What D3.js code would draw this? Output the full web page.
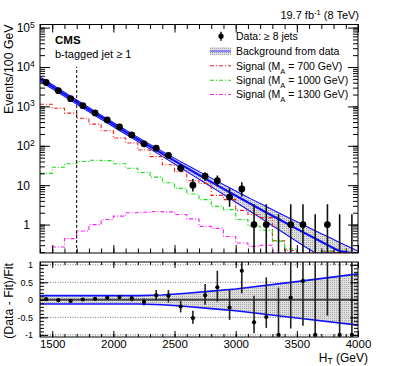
<!DOCTYPE html>
<html>
<head>
<meta charset="utf-8">
<script src="https://cdn.jsdelivr.net/npm/d3@7"></script>
<style>
  html, body { margin: 0; padding: 0; background: #fff; }
  svg { display: block; font-family: "Liberation Sans", Arial, Helvetica, sans-serif; }
</style>
</head>
<body>
<div id="chart"></div>
<script>
/* HT spectrum, >= 8 jets, b-tag >= 1: data vs fitted background + signals,
   with a (Data - Fit)/Fit ratio pad underneath. */

// bin centres (100 GeV bins)
var htBins = [1450, 1550, 1650, 1750, 1850, 1950, 2050, 2150, 2250, 2350, 2450, 2550, 2650,
              2750, 2850, 2950, 3050, 3150, 3250, 3350, 3450, 3550, 3650, 3750, 3850, 3950];

// observed events and their error bar ends
var dataCounts = [4070, 2510, 1570, 1045, 685, 455, 300, 189, 112, 87, 57, 27, 10,
                  17, 13, 5, 8, 1, 1, 0, 1, 1, 0, 1, 0, 0];
var dataLo = [4006, 2460, 1530, 1013, 659, 434, 283, 175, 101, 78, 49.5, 21.9, 6.9,
              12.9, 9.4, 2.84, 5.18, 0.173, 0.173, 0, 0.173, 0.173, 0, 0.173, 0, 0];
var dataHi = [4134, 2560, 1610, 1077, 711, 476, 317, 203, 123, 97, 65, 32.2, 14.3,
              21.2, 17.7, 8.38, 11.8, 3.3, 3.3, 1.84, 3.3, 3.3, 1.84, 3.3, 1.84, 1.84];

// background fit curve
var fitHt = [1400, 1450, 1550, 1650, 1750, 1850, 1950, 2050, 2150, 2250, 2350, 2450, 2550, 2650,
             2750, 2850, 2950, 3050, 3150, 3250, 3350, 3450, 3550, 3650, 3750, 3850, 3950, 4000];
var fitVal = [5008, 3990, 2539, 1621, 1039, 668, 431, 279, 181.7, 118.6, 77.7, 51.1, 33.7, 22.3,
              14.8, 9.89, 6.62, 4.45, 3.0, 2.03, 1.38, 0.94, 0.643, 0.442, 0.304, 0.211, 0.146, 0.122];

// relative fit uncertainty band
var bandHt = [1400, 2200, 2400, 2600, 2800, 3000, 3500, 4000];
var bandUp = [0.12, 0.12, 0.14, 0.19, 0.25, 0.31, 0.52, 0.74];
var bandDn = [0.12, 0.12, 0.14, 0.19, 0.25, 0.31, 0.52, 0.72];

// signal histograms (per bin)
var sig700  = [1130, 900, 675, 500, 355, 241, 158, 118, 78, 53, 33, 22, 13,
               11, 5.5, 4.3, 2.3, 1.8, 1.5, 0.39, 0.22, 0.12, 0.1, 0.21, 0.12, 0.08];
var sig1000 = [20, 28.5, 35, 40, 43, 42, 35, 27, 21, 16, 11.5, 8.3, 6,
               4.3, 2.9, 2.4, 1.35, 0.92, 0.72, 0.38, 0.24, 0.15, 0.12, 0.21, 0.14, 0.1];
var sig1300 = [0.15, 0.27, 0.44, 0.69, 1.0, 1.35, 1.64, 2.0, 2.05, 2.15, 2.1, 1.8, 1.4,
               0.9, 0.8, 0.5, 0.34, 0.28, 0.3, 0.19, 0.15, 0.12, 0.1, 0.19, 0.12, 0.1];

// ratio pad values and error bar ends
var ratioVal = [0.02, -0.01, -0.03, 0.01, 0.03, 0.06, 0.08, 0.04, -0.06, 0.13, 0.12, -0.19, -0.52,
                0.13, 0.36, -0.22, 0.83, -0.64, -0.49, -1, 0.06, 0.54, -1, 2.3, -1, -1];
var ratioLo = [0.0, -0.03, -0.05, -0.02, 0.0, 0.02, 0.03, -0.04, -0.16, -0.02, -0.07, -0.36, -0.68,
               -0.14, -0.05, -0.57, 0.19, -0.95, -0.8, -1, -0.82, -0.74, -1, -0.45, -1, -1];
var ratioHi = [0.04, 0.01, -0.01, 0.04, 0.06, 0.1, 0.13, 0.12, 0.04, 0.28, 0.28, -0.02, -0.31,
               0.45, 0.83, 0.3, 1.2, 0.12, 0.64, 0.35, 1.5, 1.5, 2.5, 5, 5, 10];

// axis ticks / labels
var xMajor = [1500, 2000, 2500, 3000, 3500, 4000];
var yTickVals = [1, 10, 100, 1000, 10000, 100000];
var yTickBase = ["1", "10", "10", "10", "10", "10"];
var yTickExp  = ["", "", "2", "3", "4", "5"];
var rMajor = [-1, -0.5, 0, 0.5, 1];
var rGrid = [-1, -0.5, 0.5, 1];
var cutHt = 1700;

var legendRows = [
  { type: "data",  label: "Data: \u2265 8 jets" },
  { type: "bkg",   label: "Background from data" },
  { type: "sig",   label: "Signal (M", sub: "A", rest: " = 700 GeV)",  color: "#ff1a1a" },
  { type: "sig",   label: "Signal (M", sub: "A", rest: " = 1000 GeV)", color: "#10e010" },
  { type: "sig",   label: "Signal (M", sub: "A", rest: " = 1300 GeV)", color: "#ff1aff" }
];

(function () {
  "use strict";

  var W = 399, H = 366;
  var L = 40, R = 358;
  var T1 = 24.5, B1 = 253, T2 = 262, B2 = 337;
  var BLUE = "#1010ff";

  var x = d3.scaleLinear().domain([1400, 4000]).range([L, R]);
  var y = d3.scaleLog().domain([0.19, 1.2e5]).range([B1, T1]).clamp(true);
  var yr = d3.scaleLinear().domain([-1.06, 1.08]).range([B2, T2]);
  var upAt = d3.scaleLinear().domain(bandHt).range(bandUp);
  var dnAt = d3.scaleLinear().domain(bandHt).range(bandDn);

  var svg = d3.select("#chart").append("svg").attr("width", W).attr("height", H);
  var defs = svg.append("defs");
  defs.append("clipPath").attr("id", "clipTop").append("rect")
    .attr("x", L).attr("y", T1).attr("width", R - L).attr("height", B1 - T1);
  defs.append("clipPath").attr("id", "clipBot").append("rect")
    .attr("x", L).attr("y", T2).attr("width", R - L).attr("height", B2 - T2);
  var pat = defs.append("pattern").attr("id", "dots").attr("patternUnits", "userSpaceOnUse")
    .attr("width", 2).attr("height", 2);
  pat.append("rect").attr("width", 2).attr("height", 2).attr("fill", "#dedede");
  pat.append("rect").attr("width", 1).attr("height", 1).attr("fill", "#a9a9a9");

  function clean(g) {
    g.select(".domain").remove();
    g.selectAll(".tick line").attr("stroke", "#000").attr("stroke-width", 1);
    return g;
  }
  function inTicks(axisFn, scale, vals, size, pos, transform) {
    var a = axisFn(scale).tickValues(vals).tickSize(-size).tickFormat("");
    return clean(svg.append("g").attr("transform", transform).call(a));
  }

  /* ---------------- top pad ---------------- */
  var top = svg.append("g").attr("clip-path", "url(#clipTop)");

  // band
  var bandPts = fitHt.map(function (h, i) {
    return { h: h, lo: fitVal[i] * (1 - dnAt(h)), hi: fitVal[i] * (1 + upAt(h)), c: fitVal[i] };
  });
  top.append("path").datum(bandPts)
    .attr("d", d3.area().x(function (d) { return x(d.h); })
      .y0(function (d) { return y(Math.max(d.lo, 0.01)); })
      .y1(function (d) { return y(d.hi); }))
    .attr("fill", "url(#dots)");
  ["lo", "hi"].forEach(function (k) {
    top.append("path").datum(bandPts)
      .attr("d", d3.line().x(function (d) { return x(d.h); }).y(function (d) { return y(Math.max(d[k], 0.01)); }))
      .attr("fill", "none").attr("stroke", BLUE).attr("stroke-width", 1.1);
  });
  top.append("path").datum(bandPts)
    .attr("d", d3.line().x(function (d) { return x(d.h); }).y(function (d) { return y(d.c); }))
    .attr("fill", "none").attr("stroke", BLUE).attr("stroke-width", 2.2);

  // signals
  function stepPts(vals) {
    var pts = vals.map(function (v, i) { return [htBins[i] - 50, v]; });
    pts.push([4000, vals[vals.length - 1]]);
    return pts;
  }
  [[sig700, legendRows[2].color], [sig1000, legendRows[3].color], [sig1300, legendRows[4].color]]
    .forEach(function (s) {
      top.append("path").datum(stepPts(s[0]))
        .attr("d", d3.line().curve(d3.curveStepAfter)
          .x(function (d) { return x(d[0]); }).y(function (d) { return y(d[1]); }))
        .attr("fill", "none").attr("stroke", s[1]).attr("stroke-width", 1.1)
        .attr("stroke-dasharray", "4,2,1,2");
    });

  // cut line
  svg.append("line")
    .attr("x1", x(cutHt)).attr("x2", x(cutHt)).attr("y1", y(0.19)).attr("y2", y(1e4))
    .attr("stroke", "#000").attr("stroke-width", 1).attr("stroke-dasharray", "3,2");

  // data
  htBins.forEach(function (h, i) {
    top.append("line")
      .attr("x1", x(h)).attr("x2", x(h))
      .attr("y1", y(Math.max(dataLo[i], 0.01))).attr("y2", y(dataHi[i]))
      .attr("stroke", "#111").attr("stroke-width", 1.6);
    if (dataCounts[i] > 0) {
      top.append("circle").attr("cx", x(h)).attr("cy", y(dataCounts[i])).attr("r", 3.4).attr("fill", "#000");
    }
  });

  // frame + ticks
  svg.append("rect").attr("x", L).attr("y", T1).attr("width", R - L).attr("height", B1 - T1)
    .attr("fill", "none").attr("stroke", "#000").attr("stroke-width", 1);
  var xMinor = d3.range(1400, 4001, 100);
  inTicks(d3.axisBottom, x, xMinor, 4.5, 0, "translate(0," + B1 + ")");
  inTicks(d3.axisBottom, x, xMajor, 8, 0, "translate(0," + B1 + ")");
  inTicks(d3.axisTop, x, xMinor, 4.5, 0, "translate(0," + T1 + ")");
  inTicks(d3.axisTop, x, xMajor, 8, 0, "translate(0," + T1 + ")");
  var yMinor = y.ticks();
  inTicks(d3.axisLeft, y, yMinor, 5, 0, "translate(" + L + ",0)");
  inTicks(d3.axisRight, y, yMinor, 5, 0, "translate(" + R + ",0)");
  inTicks(d3.axisRight, y, yTickVals, 10, 0, "translate(" + R + ",0)");

  var gy = clean(svg.append("g").attr("transform", "translate(" + L + ",0)")
    .call(d3.axisLeft(y).tickValues(yTickVals).tickSize(-10).tickPadding(10).tickFormat(function (d, i) { return yTickBase[i]; })));
  gy.selectAll("text").attr("font-size", 12).attr("fill", "#000")
    .attr("font-family", "'Liberation Sans', Arial, sans-serif");
  gy.selectAll(".tick").each(function (d, i) {
    if (!yTickExp[i]) return;
    d3.select(this).append("text").attr("x", -10).attr("dy", "-0.05em")
      .attr("font-size", 8.5).attr("fill", "#000").attr("text-anchor", "start")
      .text(yTickExp[i]);
  });

  /* ---------------- ratio pad ---------------- */
  var bot = svg.append("g").attr("clip-path", "url(#clipBot)");
  rGrid.forEach(function (v) {
    bot.append("line").attr("x1", L).attr("x2", R).attr("y1", yr(v)).attr("y2", yr(v))
      .attr("stroke", "#555").attr("stroke-width", 0.8).attr("stroke-dasharray", "1,1.5");
  });
  bot.append("path").datum(bandHt)
    .attr("d", d3.area().x(function (h) { return x(h); })
      .y0(function (h, i) { return yr(-bandDn[i]); }).y1(function (h, i) { return yr(bandUp[i]); }))
    .attr("fill", "url(#dots)");
  bot.append("line").attr("x1", L).attr("x2", R).attr("y1", yr(0)).attr("y2", yr(0))
    .attr("stroke", "#444").attr("stroke-width", 2);
  [bandUp, bandDn].forEach(function (arr, k) {
    bot.append("path").datum(bandHt)
      .attr("d", d3.line().x(function (h) { return x(h); })
        .y(function (h, i) { return yr(k === 0 ? arr[i] : -arr[i]); }))
      .attr("fill", "none").attr("stroke", BLUE).attr("stroke-width", 1.6);
  });
  htBins.forEach(function (h, i) {
    bot.append("line").attr("x1", x(h)).attr("x2", x(h))
      .attr("y1", yr(ratioLo[i])).attr("y2", yr(ratioHi[i]))
      .attr("stroke", "#222").attr("stroke-width", 1.6);
    bot.append("circle").attr("cx", x(h)).attr("cy", yr(ratioVal[i])).attr("r", 2.1).attr("fill", "#000");
  });

  svg.append("rect").attr("x", L).attr("y", T2).attr("width", R - L).attr("height", B2 - T2)
    .attr("fill", "none").attr("stroke", "#000").attr("stroke-width", 1);
  inTicks(d3.axisTop, x, xMinor, 3, 0, "translate(0," + T2 + ")");
  inTicks(d3.axisTop, x, xMajor, 6, 0, "translate(0," + T2 + ")");
  inTicks(d3.axisBottom, x, xMinor, 3, 0, "translate(0," + B2 + ")");
  var rMinor = d3.range(-1, 1.001, 0.1);
  inTicks(d3.axisLeft, yr, rMinor, 4, 0, "translate(" + L + ",0)");
  inTicks(d3.axisRight, yr, rMinor, 4, 0, "translate(" + R + ",0)");
  inTicks(d3.axisRight, yr, rMajor, 8, 0, "translate(" + R + ",0)");

  var gx = clean(svg.append("g").attr("transform", "translate(0," + B2 + ")")
    .call(d3.axisBottom(x).tickValues(xMajor).tickSize(-6).tickPadding(3).tickFormat(function (d) { return String(d); })));
  gx.selectAll("text").attr("font-size", 11.5).attr("fill", "#000")
    .attr("font-family", "'Liberation Sans', Arial, sans-serif");

  var gr = clean(svg.append("g").attr("transform", "translate(" + L + ",0)")
    .call(d3.axisLeft(yr).tickValues(rMajor).tickSize(-8).tickPadding(7).tickFormat(function (d) { return String(d); })));
  gr.selectAll("text").attr("font-size", 9).attr("fill", "#000")
    .attr("font-family", "'Liberation Sans', Arial, sans-serif");

  /* ---------------- titles ---------------- */
  svg.append("text").attr("transform", "translate(13," + T1 + ") rotate(-90)")
    .attr("text-anchor", "end").attr("font-size", 12.3).text("Events/100 GeV");
  svg.append("text").attr("transform", "translate(13," + (T2 + 1) + ") rotate(-90)")
    .attr("text-anchor", "end").attr("font-size", 12.3).text("(Data - Fit)/Fit");

  var xt = svg.append("text").attr("x", 368).attr("y", 362).attr("text-anchor", "end").attr("font-size", 12);
  xt.append("tspan").text("H");
  xt.append("tspan").attr("font-size", 8.5).attr("dy", 2).text("T");
  xt.append("tspan").attr("dy", -2).text(" (GeV)");

  var lumi = svg.append("text").attr("x", 359).attr("y", 19).attr("text-anchor", "end").attr("font-size", 11);
  lumi.append("tspan").text("19.7 fb");
  lumi.append("tspan").attr("font-size", 7.5).attr("dy", -4).text("-1");
  lumi.append("tspan").attr("dy", 4).text(" (8 TeV)");

  svg.append("text").attr("x", 55).attr("y", 43.5).attr("font-size", 11.5).attr("font-weight", "bold").text("CMS");
  svg.append("text").attr("x", 55).attr("y", 58).attr("font-size", 11).text("b-tagged jet \u2265 1");

  /* ---------------- legend ---------------- */
  var lg = svg.append("g").attr("font-size", 10.5);
  var rowY = [36.2, 51.2, 65.7, 80.2, 94.5];
  legendRows.forEach(function (r, i) {
    var cy = rowY[i];
    if (r.type === "data") {
      lg.append("line").attr("x1", 221).attr("x2", 221).attr("y1", cy - 4.5).attr("y2", cy + 4.5)
        .attr("stroke", "#000").attr("stroke-width", 1.4);
      lg.append("circle").attr("cx", 221).attr("cy", cy).attr("r", 2.6).attr("fill", "#000");
    } else if (r.type === "bkg") {
      lg.append("rect").attr("x", 210).attr("y", cy - 4).attr("width", 21).attr("height", 8).attr("fill", "url(#dots)");
      lg.append("line").attr("x1", 210).attr("x2", 231).attr("y1", cy).attr("y2", cy)
        .attr("stroke", "#8080ff").attr("stroke-width", 2);
    } else {
      lg.append("line").attr("x1", 210).attr("x2", 231).attr("y1", cy).attr("y2", cy)
        .attr("stroke", r.color).attr("stroke-width", 1.1).attr("stroke-dasharray", "4,2,1,2");
    }
    var t = lg.append("text").attr("x", 236).attr("y", cy + 3.8);
    t.append("tspan").text(r.label);
    if (r.sub) {
      t.append("tspan").attr("font-size", 7.5).attr("dy", 4).text(r.sub);
      t.append("tspan").attr("dy", -4).text(r.rest);
    }
  });
})();
</script>
</body>
</html>
